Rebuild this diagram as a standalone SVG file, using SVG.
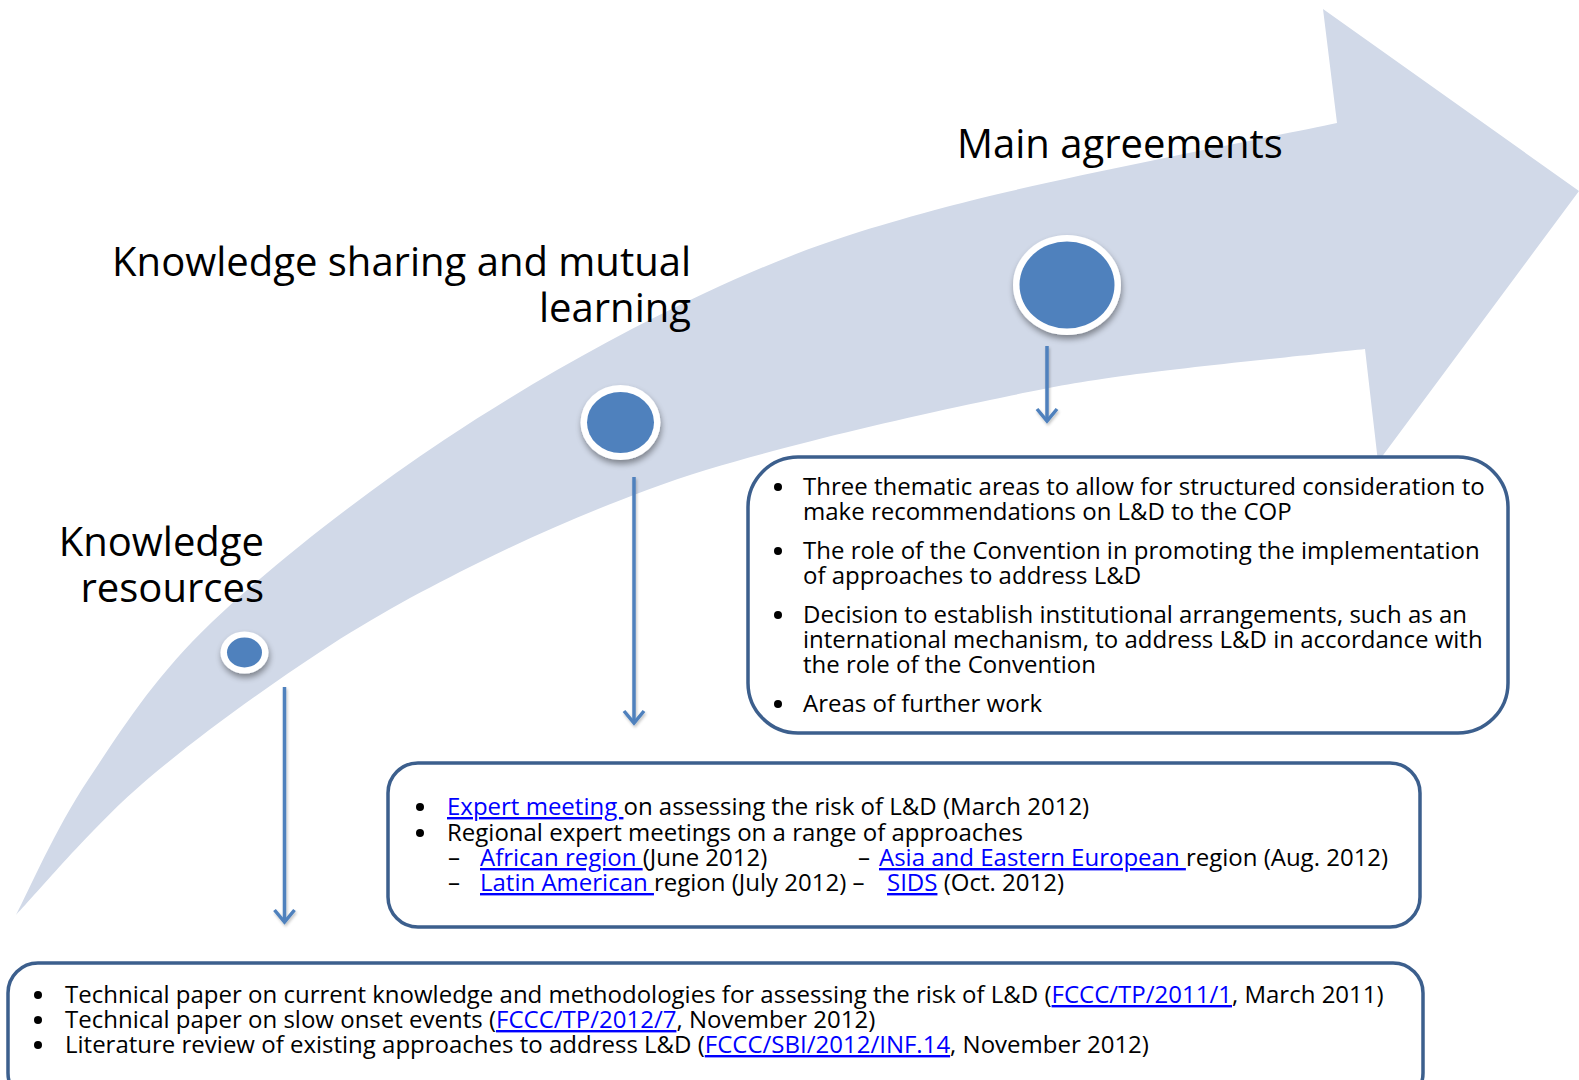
<svg xmlns="http://www.w3.org/2000/svg" width="1579" height="1080" viewBox="0 0 1579 1080">
<defs>
<style>
text{font-family:"Open Sans","Liberation Sans",sans-serif;fill:#000}
.h{font-size:40px}
.t{font-size:24px}
.lk{fill:#0000FF;text-decoration:underline}
.box{fill:#fff;stroke:#3C5F8D;stroke-width:3.5}
.conn{stroke:#4F81BD;stroke-width:3.5;fill:none}
.ring{fill:#fff}
.dot{fill:#4F81BD}
.bul{fill:#000}
</style>
<filter id="sh" x="-30%" y="-30%" width="160%" height="170%">
<feGaussianBlur in="SourceAlpha" stdDeviation="3"/>
<feOffset dx="1" dy="4" result="o"/>
<feComponentTransfer><feFuncA type="linear" slope="0.4"/></feComponentTransfer>
<feMerge><feMergeNode/><feMergeNode in="SourceGraphic"/></feMerge>
</filter>
<filter id="sh2" x="-50%" y="-10%" width="200%" height="120%">
<feGaussianBlur in="SourceAlpha" stdDeviation="1.5"/>
<feOffset dx="1" dy="2"/>
<feComponentTransfer><feFuncA type="linear" slope="0.25"/></feComponentTransfer>
<feMerge><feMergeNode/><feMergeNode in="SourceGraphic"/></feMerge>
</filter>
</defs>
<rect width="1579" height="1080" fill="#fff"/>

<g id="flow-arrow">
<path fill="#D1D9E8" d="M16,915 C28,892.5 55.3,828.8 88,780 C120.7,731.2 152.7,678.7 212,622 C271.3,565.3 361.8,494.8 444,440 C526.2,385.2 621.3,331.8 705,293 C788.7,254.2 840.7,235.3 946,207 C1051.3,178.7 1271.8,137 1337,123 L1323,9 L1579,191 L1378,462 L1365,349 C1325.8,353.3 1192.5,366.5 1130,375 C1067.5,383.5 1045,388.5 990,400 C935,411.5 857.2,429 800,444 C742.8,459 700.3,470.3 647,490 C593.7,509.7 534.5,535 480,562 C425.5,589 376.3,615 320,652 C263.7,689 192.7,740.2 142,784 C91.3,827.8 37,893.2 16,915 Z"/>
</g>

<g id="label-main-agreements">
<text class="h" x="957" y="158">Main agreements</text>
</g>
<g id="label-knowledge-sharing">
<text class="h" x="691" y="276" text-anchor="end">Knowledge sharing and mutual</text>
<text class="h" x="691" y="322" text-anchor="end">learning</text>
</g>
<g id="label-knowledge-resources">
<text class="h" x="264" y="556" text-anchor="end">Knowledge</text>
<text class="h" x="264" y="602" text-anchor="end">resources</text>
</g>

<g id="node-knowledge-resources" filter="url(#sh)">
<ellipse class="ring" cx="244.5" cy="652.5" rx="24" ry="21"/>
<ellipse class="dot" cx="244.5" cy="652.5" rx="17.5" ry="15"/>
</g>
<g id="node-knowledge-sharing" filter="url(#sh)">
<ellipse class="ring" cx="620.5" cy="422.5" rx="40" ry="37.5"/>
<ellipse class="dot" cx="620.5" cy="422.5" rx="33.5" ry="30.5"/>
</g>
<g id="node-main-agreements" filter="url(#sh)">
<ellipse class="ring" cx="1067" cy="285" rx="54" ry="50"/>
<ellipse class="dot" cx="1067" cy="285" rx="47.5" ry="43.5"/>
</g>

<g id="connectors" filter="url(#sh2)">
<line class="conn" x1="1047" y1="346" x2="1047" y2="421"/>
<polyline class="conn" points="1037,409 1047,421 1057,409"/>
<line class="conn" x1="634" y1="477" x2="634" y2="723"/>
<polyline class="conn" points="624,711 634,723 644,711"/>
<line class="conn" x1="284.5" y1="687" x2="284.5" y2="922"/>
<polyline class="conn" points="274.5,910 284.5,922 294.5,910"/>
</g>

<g id="box-main-agreements">
<rect class="box" x="748" y="457" width="760" height="276" rx="50" ry="50"/>
<circle class="bul" cx="778" cy="487" r="4"/>
<text class="t" x="803" y="495">Three thematic areas to allow for structured consideration to</text>
<text class="t" x="803" y="520">make recommendations on L&amp;D to the COP</text>
<circle class="bul" cx="778" cy="551" r="4"/>
<text class="t" x="803" y="559">The role of the Convention in promoting the implementation</text>
<text class="t" x="803" y="584">of approaches to address L&amp;D</text>
<circle class="bul" cx="778" cy="615" r="4"/>
<text class="t" x="803" y="623">Decision to establish institutional arrangements, such as an</text>
<text class="t" x="803" y="648">international mechanism, to address L&amp;D in accordance with</text>
<text class="t" x="803" y="673">the role of the Convention</text>
<circle class="bul" cx="778" cy="704" r="4"/>
<text class="t" x="803" y="712">Areas of further work</text>
</g>

<g id="box-knowledge-sharing">
<rect class="box" x="388" y="763" width="1032" height="164" rx="30" ry="30"/>
<circle class="bul" cx="420" cy="807" r="4"/>
<text class="t" x="447" y="815"><tspan class="lk">Expert meeting </tspan>on assessing the risk of L&amp;D (March 2012)</text>
<circle class="bul" cx="420" cy="833" r="4"/>
<text class="t" x="447" y="841">Regional expert meetings on a range of approaches</text>
<text class="t" x="448" y="866">–</text>
<text class="t" x="480" y="866"><tspan class="lk">African region </tspan>(June 2012)</text>
<text class="t" x="858" y="866">–</text>
<text class="t" x="879" y="866"><tspan class="lk">Asia and Eastern European </tspan>region (Aug. 2012)</text>
<text class="t" x="448" y="891">–</text>
<text class="t" x="480" y="891"><tspan class="lk">Latin American </tspan>region (July 2012) –</text>
<text class="t" x="887" y="891"><tspan class="lk">SIDS</tspan> (Oct. 2012)</text>
</g>

<g id="box-knowledge-resources">
<rect class="box" x="8" y="963" width="1415" height="140" rx="30" ry="30"/>
<circle class="bul" cx="38" cy="995" r="4"/>
<text class="t" x="65" y="1003">Technical paper on current knowledge and methodologies for assessing the risk of L&amp;D (<tspan class="lk">FCCC/TP/2011/1</tspan>, March 2011)</text>
<circle class="bul" cx="38" cy="1020" r="4"/>
<text class="t" x="65" y="1028">Technical paper on slow onset events (<tspan class="lk">FCCC/TP/2012/7</tspan>, November 2012)</text>
<circle class="bul" cx="38" cy="1045" r="4"/>
<text class="t" x="65" y="1053">Literature review of existing approaches to address L&amp;D (<tspan class="lk">FCCC/SBI/2012/INF.14</tspan>, November 2012)</text>
</g>
</svg>
